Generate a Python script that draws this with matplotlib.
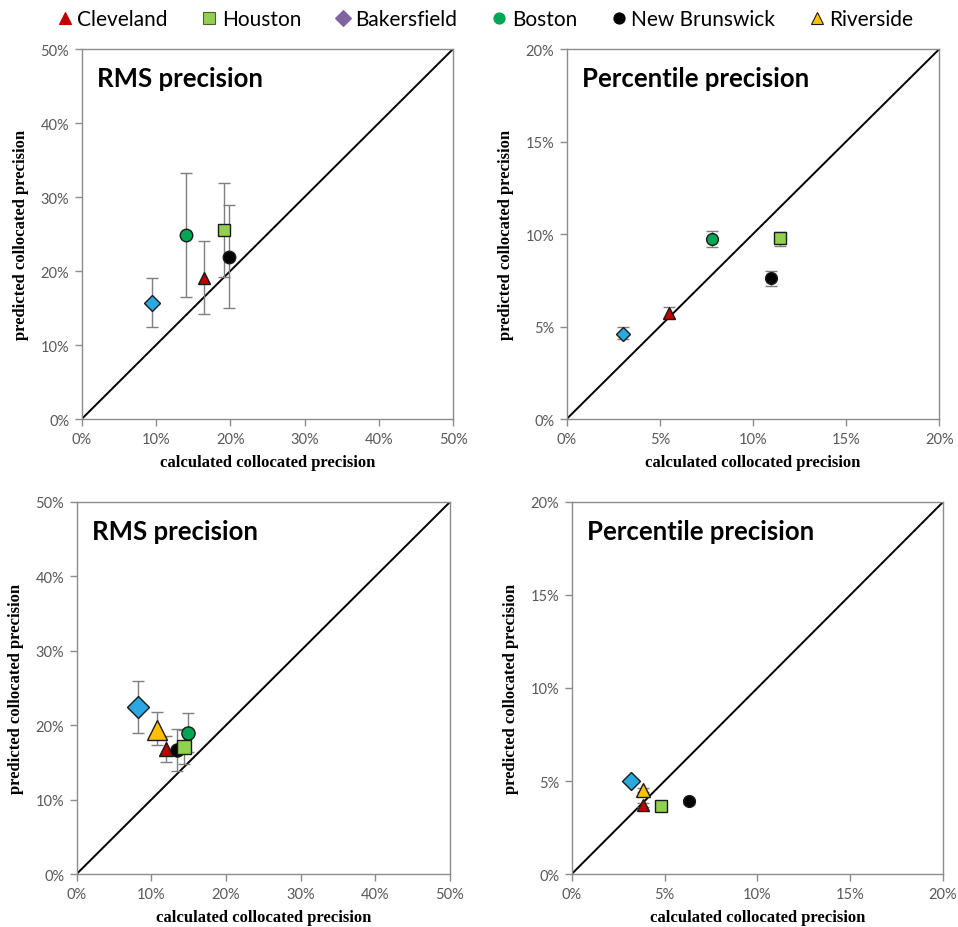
import matplotlib
matplotlib.use("Agg")
import matplotlib.pyplot as plt
from matplotlib.lines import Line2D
from matplotlib.ticker import FuncFormatter, MultipleLocator

# legend entries (legend shows Bakersfield as purple diamond)
legend_names = ["Cleveland", "Houston", "Bakersfield", "Boston", "New Brunswick", "Riverside"]
legend_colors = ["#C00000", "#92D050", "#8064A2", "#00A651", "#000000", "#FFC000"]
legend_markers = ["^", "s", "D", "o", "o", "^"]

# marker style per city in the plots
city_style = {
    "Cleveland": ("^", "#C00000"),
    "Houston": ("s", "#92D050"),
    "Bakersfield": ("D", "#29A9E0"),
    "Boston": ("o", "#00A651"),
    "New Brunswick": ("o", "#000000"),
    "Riverside": ("^", "#FFC000"),
}

# top-left: RMS precision (%)
tl_cities = ["Bakersfield", "Boston", "Cleveland", "Houston", "New Brunswick"]
tl_x = [9.5, 14.05, 16.4, 19.2, 19.8]
tl_y = [15.7, 24.9, 19.0, 25.6, 21.9]
tl_lo = [12.5, 16.5, 14.2, 19.2, 15.0]
tl_hi = [19.0, 33.3, 24.0, 31.9, 28.9]

# top-right: percentile precision (%)
tr_cities = ["Bakersfield", "Cleveland", "Boston", "Houston", "New Brunswick"]
tr_x = [3.02, 5.48, 7.81, 11.46, 10.97]
tr_y = [4.62, 5.75, 9.75, 9.77, 7.6]
tr_lo = [4.31, 5.45, 9.29, 9.35, 7.19]
tr_hi = [4.98, 6.08, 10.14, 10.09, 8.02]

# bottom-left: RMS precision (%)
bl_cities = ["Bakersfield", "Riverside", "Cleveland", "New Brunswick", "Houston", "Boston"]
bl_x = [8.2, 10.7, 12.0, 13.5, 14.4, 14.9]
bl_y = [22.4, 19.4, 16.8, 16.7, 17.1, 19.0]
bl_lo = [19.0, 17.3, 15.1, 13.8, 14.8, 16.4]
bl_hi = [25.9, 21.8, 18.6, 19.5, 19.4, 21.7]

# bottom-right: percentile precision (%)
br_cities = ["Bakersfield", "Riverside", "Cleveland", "Houston", "New Brunswick"]
br_x = [3.19, 3.82, 3.82, 4.81, 6.3]
br_y = [5.0, 4.5, 3.72, 3.63, 3.9]
br_lo = [4.95, 4.4, 3.62, 3.58, 3.75]
br_hi = [5.05, 4.6, 3.82, 3.68, 4.05]

panels = [
    ([0.0853, 0.5474, 0.3876, 0.3987], "RMS precision", 50, 10, tl_cities, tl_x, tl_y, tl_lo, tl_hi, 9, 1.0),
    ([0.5915, 0.5474, 0.3890, 0.3987], "Percentile precision", 20, 5, tr_cities, tr_x, tr_y, tr_lo, tr_hi, 8.5, 1.0),
    ([0.0800, 0.0571, 0.3897, 0.4009], "RMS precision", 50, 10, bl_cities, bl_x, bl_y, bl_lo, bl_hi, 9.5, 1.45),
    ([0.5968, 0.0571, 0.3876, 0.4009], "Percentile precision", 20, 5, br_cities, br_x, br_y, br_lo, br_hi, 8.5, 1.25),
]

big = ["Bakersfield", "Riverside"]

fig = plt.figure(figsize=(9.58, 9.28), dpi=100)

for rect, title, lim, step, cities, xs, ys, lo, hi, msize, bigf in panels:
    ax = fig.add_axes(rect)
    ax.plot([0, lim], [0, lim], color="black", lw=1.4, zorder=1)
    for c, x, y, l, h in zip(cities, xs, ys, lo, hi):
        m, col = city_style[c]
        ms = msize * (bigf if c in big else 1.0)
        if m == "D":
            ms *= 0.85
        ax.errorbar([x], [y], yerr=[[y - l], [h - y]], fmt="none", ecolor="#7F7F7F",
                    elinewidth=1.0, capsize=4, capthick=1.0, zorder=2)
        ax.plot([x], [y], marker=m, ms=ms, color=col, mec="#1A1A1A", mew=1.0,
                linestyle="none", zorder=3)
    ax.set_xlim(0, lim)
    ax.set_ylim(0, lim)
    ax.xaxis.set_major_locator(MultipleLocator(step))
    ax.yaxis.set_major_locator(MultipleLocator(step))
    fmt = FuncFormatter(lambda v, p: "%d%%" % round(v))
    ax.xaxis.set_major_formatter(fmt)
    ax.yaxis.set_major_formatter(fmt)
    for sp in ax.spines.values():
        sp.set_color("#8C8C8C")
        sp.set_linewidth(1.0)
    ax.tick_params(direction="out", length=5, width=1.0, color="#8C8C8C",
                   labelcolor="#595959", labelsize=10.5, pad=4)
    for lab in ax.get_xticklabels() + ax.get_yticklabels():
        lab.set_family("Lato")
    ax.text(0.04, 0.955, title, transform=ax.transAxes, ha="left", va="top",
            fontsize=18.5, fontweight="bold", family="Lato", color="black")
    ax.set_xlabel("calculated collocated precision", family="Liberation Serif",
                  fontweight="bold", fontsize=12, labelpad=6)
    ax.set_ylabel("predicted collocated precision", family="Liberation Serif",
                  fontweight="bold", fontsize=12, labelpad=8)

handles = [Line2D([], [], marker=m, color=c, mec=c if n != "Riverside" else "#1A1A1A",
                  mew=0.8, ms=8, linestyle="none")
           for n, c, m in zip(legend_names, legend_colors, legend_markers)]
handles[1] = Line2D([], [], marker="s", color="#92D050", mec="#4F6228", mew=0.8, ms=8, linestyle="none")
fig.legend(handles, legend_names, loc="center", bbox_to_anchor=(0.505, 0.978), ncol=6,
           frameon=False, prop={"family": "Lato", "size": 15}, handletextpad=0.1,
           columnspacing=1.5, handlelength=1.0)

fig.savefig("out.png", dpi=100)
